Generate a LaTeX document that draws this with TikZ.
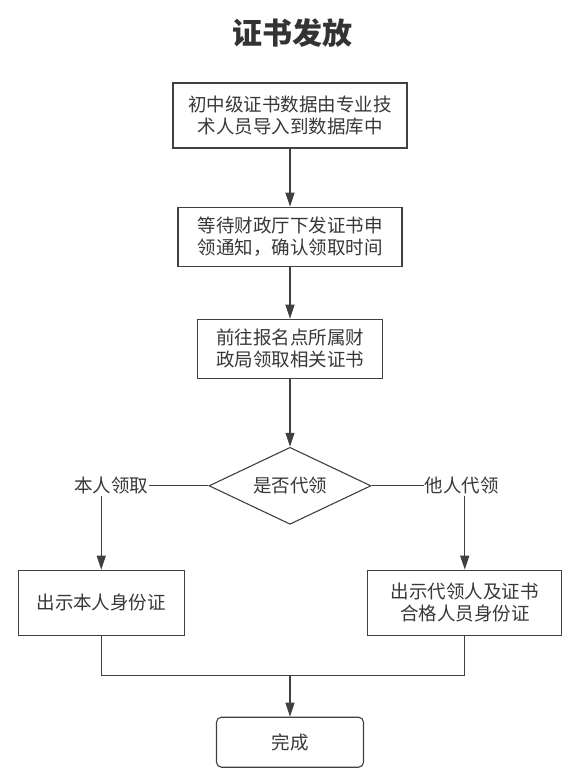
\documentclass[tikz,border=0pt]{standalone}
\usepackage{fontspec}
\newfontfamily\cjk{Noto Sans CJK SC}
\usetikzlibrary{arrows.meta,positioning,shapes.geometric}
\tikzset{
	%Define standard arrow tip
	>={Triangle[length=14pt,width=9pt]},
	%Define style for process boxes
	box/.style={
		rectangle,
		draw=black!75, line width=1.1pt,
		text=black!78,
		font=\cjk\fontsize{18.5}{22}\selectfont,
		align=center,
		inner sep=2pt},
	% Define style for the decision
	choice/.style={
		diamond,
		draw=black!75, line width=1.1pt,
		text=black!78,
		font=\cjk\fontsize{18.5}{22}\selectfont,
		aspect=2.1,
		minimum width=162pt,
		minimum height=77pt,
		inner sep=0pt},
	% Define style for branch labels
	tag/.style={
		text=black!78,
		font=\cjk\fontsize{18.5}{22}\selectfont,
		inner sep=1pt},
	% Define arrow style
	flow/.style={
		->,
		draw=black!75,
		line width=1.1pt}
}
\begin{document}
\begin{tikzpicture}[x=1pt,y=-1pt]
	\useasboundingbox[fill=white] (0,0) rectangle (585,780);

	\node[text=black!80,font=\cjk\bfseries\fontsize{30}{34}\selectfont] (head) at (292,33) {证书发放};

	\node[box,minimum width=234pt,minimum height=65pt] (import) at (290,115.5) {初中级证书数据由专业技\\术人员导入到数据库中};
	\node[box,minimum width=224pt,minimum height=59pt, below = 58pt of import] (notice) {等待财政厅下发证书申\\领通知，确认领取时间};
	\node[box,minimum width=185pt,minimum height=59pt, below = 52pt of notice] (office) {前往报名点所属财\\政局领取相关证书};

	\node[choice, below = 68pt of office] (dia) {是否代领};

	\node[tag, left = 59pt of dia] (self-tag) {本人领取};
	\node[tag, right = 52pt of dia] (proxy-tag) {他人代领};

	\node[box,minimum width=166pt,minimum height=65pt, below = 74pt of self-tag, xshift=-10pt] (self) {出示本人身份证};
	\node[box,minimum width=194pt,minimum height=65pt, below = 74pt of proxy-tag, xshift=3pt] (proxy) {出示代领人及证书\\合格人员身份证};

	\coordinate[below = 40pt of self.south] (self-end);
	\coordinate (join) at (self-end -| dia.south);
	\node[box,rounded corners=5pt,minimum width=147pt,minimum height=50pt, below = 41pt of join] (done) {完成};

	\draw[flow] (import) -- (notice);
	\draw[flow] (notice) -- (office);
	\draw[flow] (office) -- (dia);

	\draw[draw=black!75,line width=1.1pt] (dia.west) -- (self-tag.east);
	\draw[draw=black!75,line width=1.1pt] (dia.east) -- (proxy-tag.west);
	\draw[flow] (self-tag.south -| self.north) -- (self.north);
	\draw[flow] (proxy-tag.south -| proxy.north) -- (proxy.north);

	\draw[draw=black!75,line width=1.1pt] (self.south) -- (self-end) -| (proxy.south);
	\draw[flow] (join) -- (done);
\end{tikzpicture}
\end{document}
